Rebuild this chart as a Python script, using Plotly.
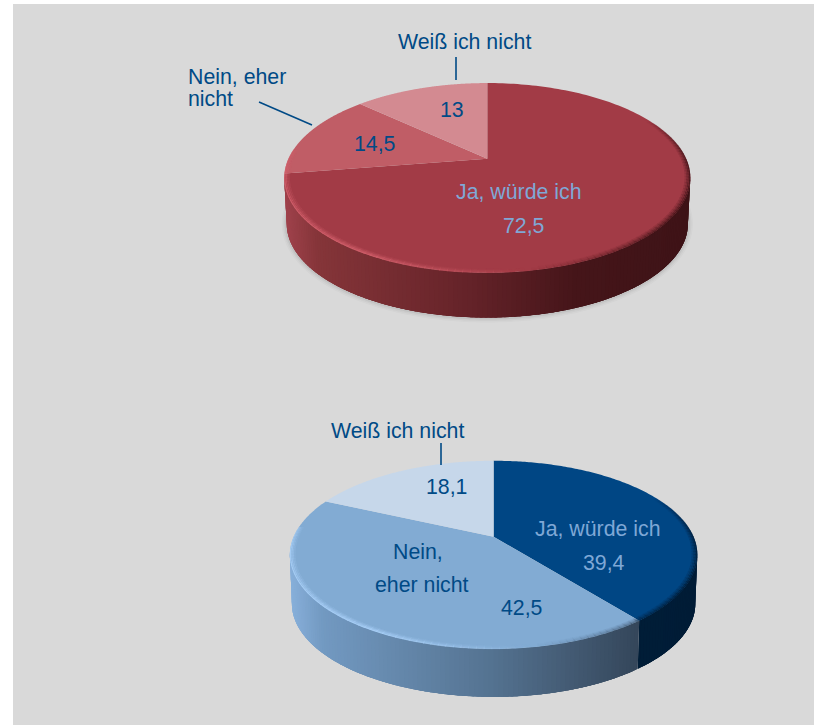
import numpy as np
import plotly.graph_objects as go

# ---- data
labels_red = ["Ja, würde ich", "Nein, eher nicht", "Weiß ich nicht"]
values_red = [72.5, 14.5, 13.0]
labels_blue = ["Ja, würde ich", "Nein, eher nicht", "Weiß ich nicht"]
values_blue = [39.4, 42.5, 18.1]

# ---- styles
PANEL = "#d9d9d9"
TEXT_DARK = "#004a86"
TEXT_LIGHT = "#7fa8d6"
FONT = "Liberation Sans"
FS = 21.3

RED_WALL = [(0.0, "#a0424c"), (0.08, "#853539"), (0.45, "#652329"), (0.72, "#451519"), (1.0, "#3e1317")]
BLUE_WALL = [(0.0, "#88b0da"), (0.08, "#7299c1"), (0.5, "#547290"), (0.857, "#34465a"), (1.0, "#2f4053")]
NAVY_WALL = [(0.0, "#00223f"), (1.0, "#001c36")]

red_style = dict(
    cx=487.3, cy=158.7, w=198.8, h=91.0, p=0.203, drop=46, shrink=0.988,
    top=["#a23b46", "#c05d66", "#d38a91"],
    wall=[RED_WALL, RED_WALL, RED_WALL],
    hi="#d2606c",
)
blue_style = dict(
    cx=493.6, cy=536.7, w=199.9, h=90.6, p=0.193, drop=49, shrink=0.99,
    top=["#004684", "#82abd3", "#c6d7ea"],
    wall=[NAVY_WALL, BLUE_WALL, BLUE_WALL],
    hi="#a9d0f8",
)


def hex2rgb(c):
    return np.array([int(c[i:i + 2], 16) for i in (1, 3, 5)], float)


def ramp(stops, f):
    f = float(np.clip(f, 0, 1))
    xs = [s[0] for s in stops]
    cs = np.array([hex2rgb(s[1]) for s in stops])
    return np.array([np.interp(f, xs, cs[:, i]) for i in range(3)])


def css(rgb, alpha=None):
    r = np.round(rgb).astype(int)
    if alpha is None:
        return "rgb(%d,%d,%d)" % tuple(r)
    return "rgba(%d,%d,%d,%.3f)" % (r[0], r[1], r[2], alpha)


def proj(st, theta, low=False, inset=0.0):
    rad = 1 - inset / st["w"] * 1.4
    u, v = rad * np.sin(theta), rad * np.cos(theta)
    s = 1 / (1 + st["p"] * v)
    k = st["shrink"] if low else 1.0
    d = st["drop"] if low else 0.0
    return st["cx"] + st["w"] * k * u * s, st["cy"] - st["h"] * k * v * s + d


def add_line(fig, x, y, color, width):
    fig.add_trace(go.Scatter(x=x, y=y, mode="lines", hoverinfo="skip",
                             line=dict(color=color, width=width, simplify=False)))


def add_poly(fig, x, y, color):
    fig.add_trace(go.Scatter(x=x, y=y, mode="none", fill="toself", fillcolor=color, hoverinfo="skip"))


def draw_pie(fig, values, st, shadow=True):
    vals = np.asarray(values, float)
    edges = np.concatenate([[0], np.cumsum(vals)]) / vals.sum() * 2 * np.pi
    th_r, th_l = np.arccos(-st["p"]), 2 * np.pi - np.arccos(-st["p"])
    xl, _ = proj(st, th_l)
    xr, _ = proj(st, th_r)

    def frac(m):
        x, _ = proj(st, m)
        return (x - xl) / (xr - xl)

    def slice_of(m):
        return min(int(np.searchsorted(edges, m) - 1), len(vals) - 1)

    # soft shadow below the wall
    if shadow:
        t = np.linspace(th_r - 0.25, th_l + 0.25, 160)
        bx, by = proj(st, t, low=True)
        for lw, a in ((10, 0.025), (7, 0.04), (4, 0.07)):
            add_line(fig, bx, by, "rgba(50,50,50,%.3f)" % a, lw)

    # wall: overlapping vertical strips coloured by horizontal position
    n = 140
    grid = np.unique(np.concatenate([np.linspace(th_r - 0.02, th_l + 0.02, n + 1),
                                     edges[(edges > th_r) & (edges < th_l)]]))
    # from the right extreme towards the left; every strip overlaps the next one
    for a, b in zip(grid[:-1], grid[1:]):
        m = (a + b) / 2
        end = min(b + 0.05, th_l + 0.02)
        if np.any((edges > a) & (edges < end)):
            end = b
        tt = np.linspace(a, end, 4)
        x1, y1 = proj(st, tt)
        x2, y2 = proj(st, tt[::-1], low=True)
        col = css(ramp(st["wall"][slice_of(m)], frac(m)))
        add_poly(fig, np.r_[x1, x2], np.r_[y1, y2], col)

    # top face
    for i in range(len(vals)):
        t = np.linspace(edges[i], edges[i + 1], 200)
        x, y = proj(st, t)
        add_poly(fig, np.r_[st["cx"], x, st["cx"]], np.r_[st["cy"], y, st["cy"]], st["top"][i])

    # soft bevel along the front rim: light on the left, shaded on the right
    layers = [(0.4, 1.0), (1.4, 0.7), (2.4, 0.4), (3.4, 0.18)]
    grid = np.linspace(th_r - 0.7, th_l + 0.3, 120)
    hi = hex2rgb(st["hi"])
    for a, b in zip(grid[:-1], grid[1:]):
        m = (a + b) / 2
        deg = np.degrees(m)
        if deg > 170:
            al = np.clip((deg - 170) / 40, 0, 1) * np.clip((292 - deg) / 30, 0, 1)
            col = hi
        else:
            al = np.clip((170 - deg) / 45, 0, 1) * np.clip((deg - 62) / 30, 0, 1)
            col = ramp(st["wall"][slice_of(np.clip(m, th_r, th_l))], frac(np.clip(m, th_r, th_l)))
        if al <= 0.01:
            continue
        for inset, w in layers:
            x, y = proj(st, np.linspace(a, b + 0.004, 3), inset=inset)
            add_line(fig, x, y, css(col, 0.85 * al * w), 1.3)


fig = go.Figure()
draw_pie(fig, values_red, red_style, shadow=True)
draw_pie(fig, values_blue, blue_style, shadow=False)

# leader lines
leaders = [((456, 456), (57, 80)), ((259, 312), (102, 125)), ((441, 441), (443, 465))]
for lx, ly in leaders:
    add_line(fig, list(lx), list(ly), TEXT_DARK, 1.6)

# text
texts = [
    ("Weiß ich nicht", 464.5, 42, TEXT_DARK, "center"),
    ("Nein, eher", 186, 77, TEXT_DARK, "left"),
    ("nicht", 186, 99, TEXT_DARK, "left"),
    ("13", 452, 110, TEXT_DARK, "center"),
    ("14,5", 374, 144, TEXT_DARK, "center"),
    ("Ja, würde ich", 518, 192, TEXT_LIGHT, "center"),
    ("72,5", 523.5, 226, TEXT_LIGHT, "center"),
    ("Weiß ich nicht", 397.5, 431, TEXT_DARK, "center"),
    ("18,1", 446, 487, TEXT_DARK, "center"),
    ("Ja, würde ich", 597.5, 529, TEXT_LIGHT, "center"),
    ("39,4", 604, 563, TEXT_LIGHT, "center"),
    ("Nein,", 418, 552, TEXT_DARK, "center"),
    ("eher nicht", 422, 585, TEXT_DARK, "center"),
    ("42,5", 521, 608, TEXT_DARK, "center"),
]
for s, x, y, c, anchor in texts:
    fig.add_annotation(x=x, y=y, text=s, showarrow=False, xanchor=anchor, yanchor="middle",
                       font=dict(family=FONT, size=FS, color=c))

fig.update_layout(
    width=814, height=725, showlegend=False,
    margin=dict(l=13, r=0, t=4, b=0, pad=0),
    paper_bgcolor="white", plot_bgcolor=PANEL,
    xaxis=dict(range=[13, 814], visible=False, fixedrange=True),
    yaxis=dict(range=[725, 4], visible=False, fixedrange=True),
)
fig.write_html("out.html", config=dict(displayModeBar=False),
               post_script="document.body.style.margin='0';")
